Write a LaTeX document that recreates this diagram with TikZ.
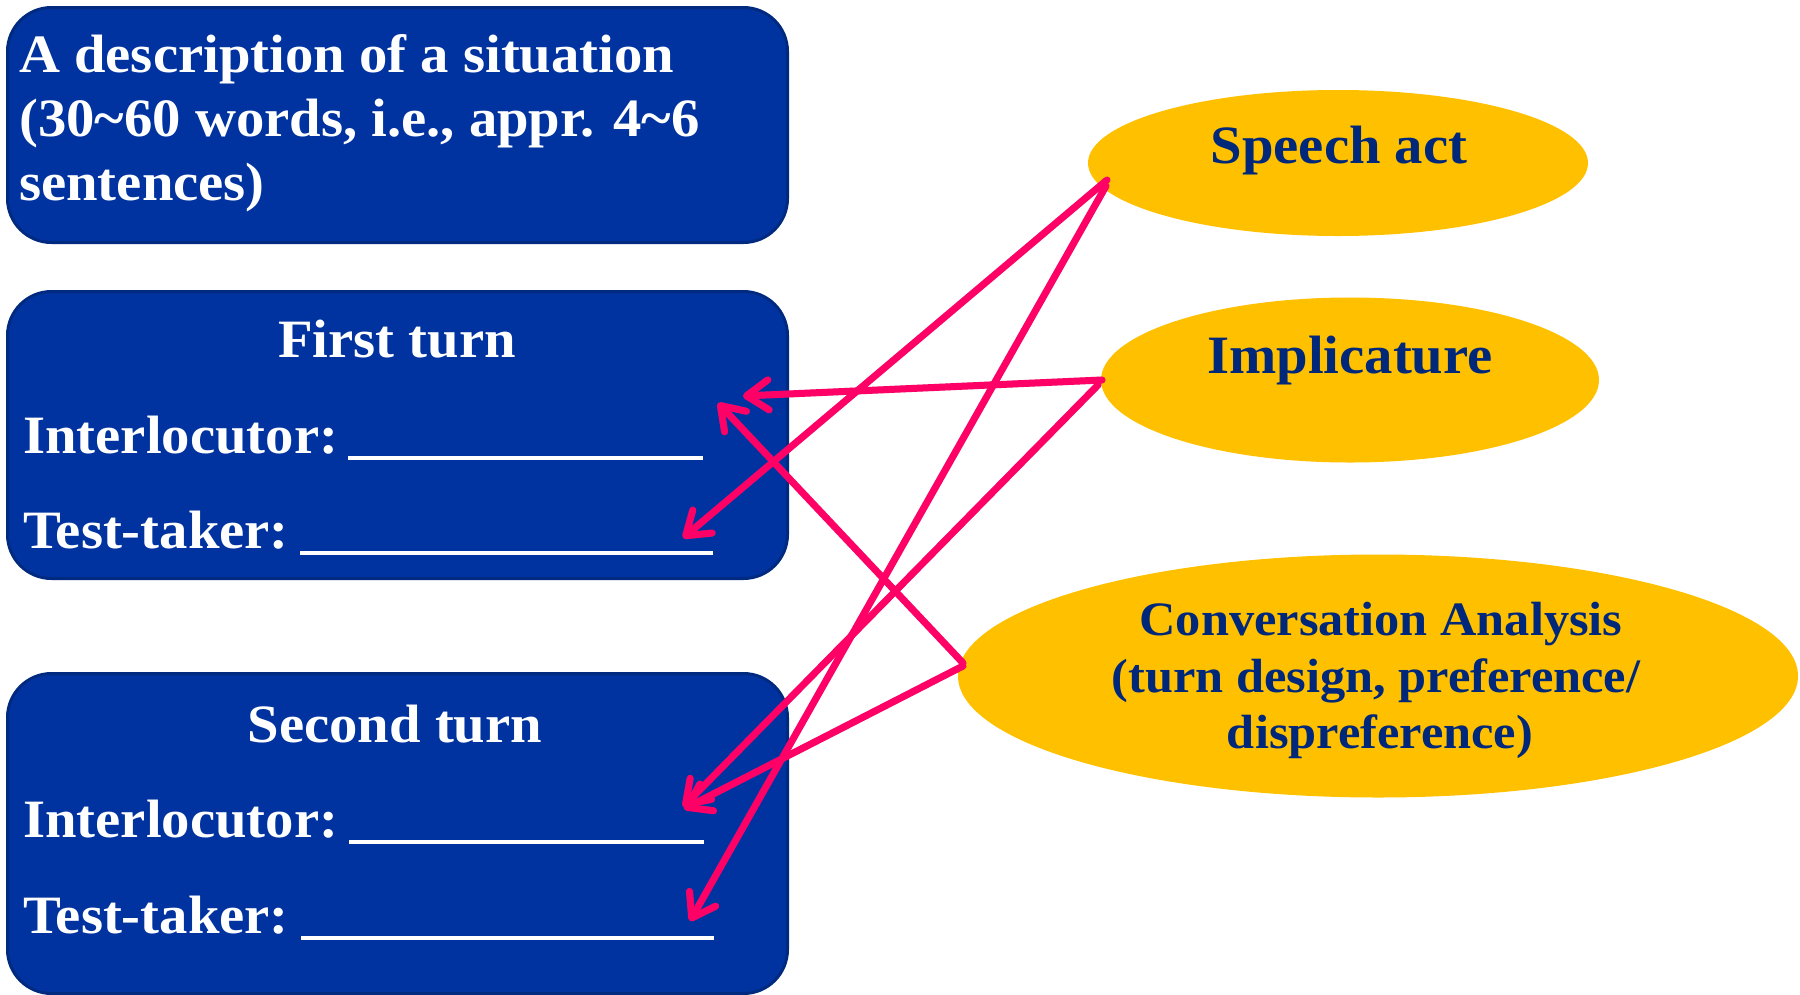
\documentclass[tikz,border=0pt]{standalone}
\usepackage{fontspec}
\setmainfont[FakeStretch=1.05]{Liberation Serif}
\usetikzlibrary{shapes.geometric,arrows.meta,calc}
\definecolor{boxblue}{HTML}{0033A0}
\definecolor{boxedge}{HTML}{002A80}
\definecolor{ellgold}{HTML}{FFC000}
\definecolor{elltext}{HTML}{00287A}
\definecolor{arrowpink}{HTML}{FF0066}
\begin{document}
\begin{tikzpicture}[x=1pt,y=-1pt,
  panel/.style={draw=boxedge,line width=3pt,fill=boxblue,rounded corners=44pt,inner sep=0pt,anchor=north west},
  oval/.style={ellipse,fill=ellgold,draw=none,inner sep=0pt},
  boxtext/.style={text=white,font=\fontsize{54}{64}\selectfont\bfseries,inner sep=0pt,anchor=base west},
  boxtitle/.style={boxtext,anchor=base},
  ovaltext/.style={text=elltext,font=\fontsize{54}{64}\selectfont\bfseries,inner sep=0pt,anchor=base},
  ovalsmall/.style={ovaltext,font=\fontsize{48}{57}\selectfont\bfseries},
  shade/.style={draw=black!55,opacity=0.3,line width=7pt,line cap=round,line join=round,
    -{Straight Barb[length=22pt,width=30pt,line cap=round,line join=round]}},
  conn/.style={draw=arrowpink,line width=7pt,line cap=round,line join=round,
    -{Straight Barb[length=22pt,width=30pt,line cap=round,line join=round]}}
]
\useasboundingbox (0,0) rectangle (1800,994);

% boxes
\node[panel,minimum width=780pt,minimum height=235pt] (desc) at (6,6) {};
\node[panel,minimum width=780pt,minimum height=287pt] (first) at (6,290) {};
\node[panel,minimum width=780pt,minimum height=320pt] (second) at (6,672) {};

% ellipses
\node[oval,minimum width=500pt,minimum height=146pt] (sa) at (1338,163) {};
\node[oval,minimum width=498pt,minimum height=165pt] (im) at (1350,380) {};
\node[oval,minimum width=840pt,minimum height=243pt] (ca) at (1378,676) {};

% box texts
\node[boxtext] (d1) at (19,72) {A description of a situation};
\node[boxtext] (d2) at (19,136) {(30\textasciitilde60 words, i.e., appr. 4\textasciitilde6};
\node[boxtext] (d3) at (19,200) {sentences)};

\node[boxtitle] (ft) at (397,357) {First turn};
\node[boxtext] (fi) at (23,453) {\makebox[325pt][l]{Interlocutor:}\rule[-7pt]{355pt}{4.5pt}};
\node[boxtext] (fx) at (23,548) {\makebox[277pt][l]{Test-taker:}\rule[-7pt]{413pt}{4.5pt}};

\node[boxtitle] (st) at (395,742) {Second turn};
\node[boxtext] (si) at (23,837) {\makebox[326pt][l]{Interlocutor:}\rule[-7pt]{355pt}{4.5pt}};
\node[boxtext] (sx) at (23,933) {\makebox[278pt][l]{Test-taker:}\rule[-7pt]{413pt}{4.5pt}};

% ellipse texts
\node[ovaltext] (sat) at (1339,163) {Speech act};
\node[ovaltext] (imt) at (1350,373) {Implicature};
\node[ovalsmall] (ca1) at (1381,635) {Conversation Analysis};
\node[ovalsmall] (ca2) at (1376,692) {(turn design, preference/};
\node[ovalsmall] (ca3) at (1380,748) {dispreference)};

% arrow tips
\coordinate (t1) at (683,538);
\coordinate (t2) at (690,921);
\coordinate (t3) at (743,396);
\coordinate (t4) at (683,807);
\coordinate (t5) at (718,403);
\coordinate (t6) at (684,809);

% connector shadows
\begin{scope}[shift={(2,3)}]
\draw[shade] ($(sa)+(-231,17)$) -- (t1);
\draw[shade] ($(sa)+(-232,23)$) -- (t2);
\draw[shade] ($(im)+(-248,0)$) -- (t3);
\draw[shade] ($(im)+(-252,5)$) -- (t4);
\draw[shade] ($(ca)+(-415,-13)$) -- (t5);
\draw[shade] ($(ca)+(-415,-10)$) -- (t6);
\end{scope}

% connectors
\draw[conn] ($(sa)+(-231,17)$) -- (t1);
\draw[conn] ($(sa)+(-232,23)$) -- (t2);
\draw[conn] ($(im)+(-248,0)$) -- (t3);
\draw[conn] ($(im)+(-252,5)$) -- (t4);
\draw[conn] ($(ca)+(-415,-13)$) -- (t5);
\draw[conn] ($(ca)+(-415,-10)$) -- (t6);
\end{tikzpicture}
\end{document}
